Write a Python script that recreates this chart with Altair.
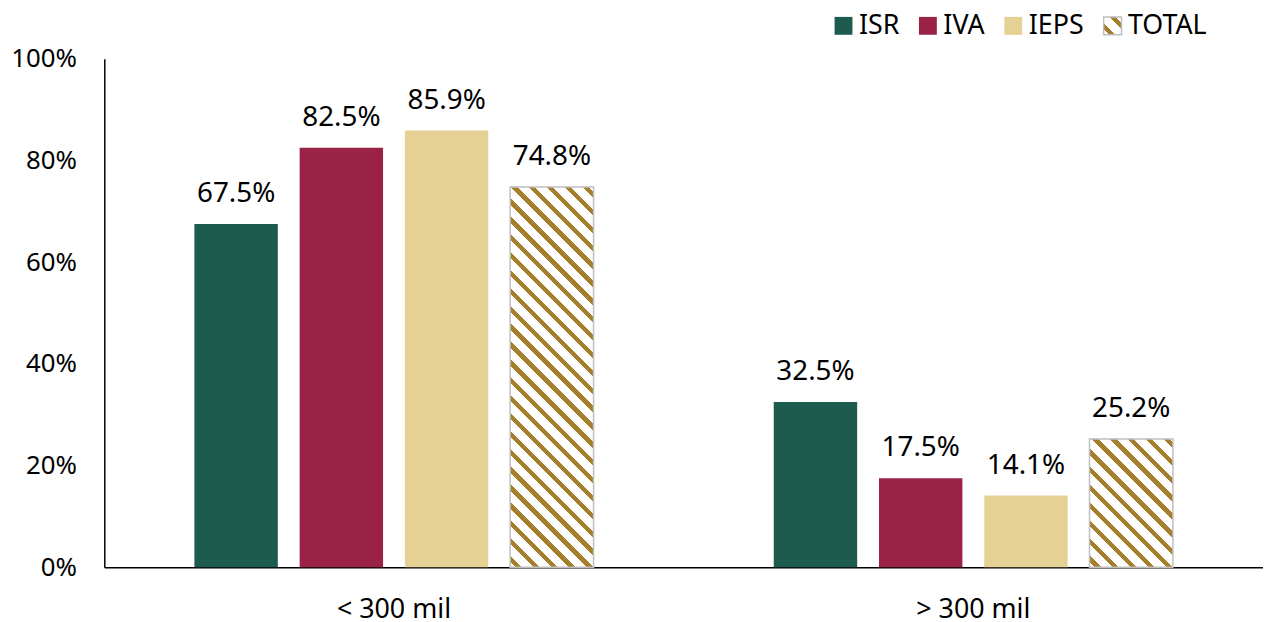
import altair as alt
import pandas as pd

categories = ["< 300 mil", "> 300 mil"]
series = ["ISR", "IVA", "IEPS", "TOTAL"]
isr = [67.5, 32.5]
iva = [82.5, 17.5]
ieps = [85.9, 14.1]
total = [74.8, 25.2]
colors = ["#1e5b4f", "#9b2247", "#e6d194"]

values = {"ISR": isr, "IVA": iva, "IEPS": ieps, "TOTAL": total}
rows = []
for s in series:
    for i, c in enumerate(categories):
        v = values[s][i]
        rows.append({"grupo": c, "serie": s, "valor": v, "label": f"{v:.1f}%"})
df = pd.DataFrame(rows)

W, H = 1167, 512
FONT = "Noto Sans"
GOLD = "#a57f2c"
BORDER = "#bfbfbf"
BAR_W = 84.0
PERIOD = 18.0
FRAC = 0.36


def hatch_stops(w, h):
    tot = w + h
    pt = PERIOD / tot
    stops = [{"offset": 0, "color": "#ffffff"}]
    k = 0
    while True:
        s = k * pt + pt * 0.3
        if s >= 1:
            break
        e = min(s + FRAC * pt, 1)
        stops += [
            {"offset": round(s, 5), "color": "#ffffff"},
            {"offset": round(s, 5), "color": GOLD},
            {"offset": round(e, 5), "color": GOLD},
            {"offset": round(e, 5), "color": "#ffffff"},
        ]
        k += 1
    stops.append({"offset": 1, "color": "#ffffff"})
    return stops


def hatch(w, h):
    c = (w + h) / (w * w + h * h)
    return {
        "gradient": "linear",
        "x1": 0, "y1": 1,
        "x2": round(c * w, 5), "y2": round(1 - c * h, 5),
        "stops": hatch_stops(w, h),
    }


def hatch_expr(w, h):
    g = hatch(w, h)
    st = ",".join("{offset:%s,color:'%s'}" % (s["offset"], s["color"]) for s in g["stops"])
    return "{gradient:'linear',x1:%s,y1:%s,x2:%s,y2:%s,stops:[%s]}" % (
        g["x1"], g["y1"], g["x2"], g["y2"], st)


color_range = colors + [alt.ExprRef(expr=hatch_expr(18, 18))]

x_enc = alt.X(
    "grupo:N", sort=categories,
    scale=alt.Scale(paddingInner=0, paddingOuter=0),
    axis=alt.Axis(title=None, labelAngle=0, labelFontSize=27, labelPadding=30,
                  ticks=False, domainColor="black", domainWidth=1.5,
                  labelColor="black", labelFont=FONT),
)
xo_enc = alt.XOffset(
    "serie:N", sort=series,
    scale=alt.Scale(domain=series, paddingInner=0.2075, paddingOuter=0.856),
)
y_enc = alt.Y(
    "valor:Q",
    scale=alt.Scale(domain=[0, 100]),
    axis=alt.Axis(title=None, values=[0, 20, 40, 60, 80, 100],
                  labelExpr="datum.value + '%'", grid=False, ticks=False,
                  domainColor="black", domainWidth=1.5, labelFontSize=26,
                  labelPadding=28, labelColor="black", labelFont=FONT),
)

base = alt.Chart(df)

bars = base.mark_bar().encode(
    x=x_enc, xOffset=xo_enc, y=y_enc,
    color=alt.Color(
        "serie:N", sort=series,
        scale=alt.Scale(domain=series, range=color_range),
        legend=alt.Legend(
            title=None, orient="none", legendX=731, legendY=-47,
            direction="horizontal", symbolType="square", symbolSize=324,
            symbolOpacity=1,
            symbolStrokeColor=alt.ExprRef(
                expr="datum.value === 'TOTAL' ? '%s' : 'transparent'" % BORDER),
            symbolStrokeWidth=1.5,
            labelFontSize=27, labelColor="black", labelFont=FONT,
            labelOffset=2, columnPadding=15,
        ),
    ),
)

hatched = []
for i, c in enumerate(categories):
    h = total[i] / 100 * H
    hatched.append(
        base.transform_filter(
            (alt.datum.serie == "TOTAL") & (alt.datum.grupo == c)
        ).mark_bar(fill=hatch(BAR_W, h), stroke=BORDER, strokeWidth=1.5).encode(
            x=x_enc, xOffset=xo_enc, y=y_enc
        )
    )

labels = base.mark_text(baseline="bottom", dy=-16, fontSize=28, font=FONT, color="black").encode(
    x=x_enc, xOffset=xo_enc, y=y_enc, text="label:N"
)

chart = alt.layer(bars, *hatched, labels).properties(
    width=W, height=H,
    padding={"left": 2, "top": 2, "right": 0, "bottom": 0},
).configure(font=FONT).configure_view(stroke=None, strokeWidth=0)

chart.save("out.html", embed_options={"renderer": "svg", "actions": False})
